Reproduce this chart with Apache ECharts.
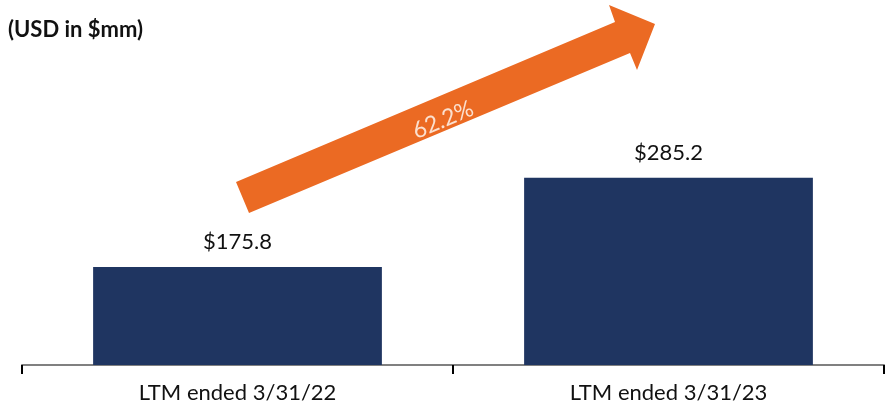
<!DOCTYPE html>
<html>
<head>
<meta charset="utf-8">
<script src="https://cdn.jsdelivr.net/npm/echarts@6/dist/echarts.min.js"></script>
<style>
  html, body { margin: 0; padding: 0; background: #fff; }
  #main { width: 888px; height: 412px; }
</style>
</head>
<body>
<div id="main"></div>
<script>
var categories = ['LTM ended 3/31/22', 'LTM ended 3/31/23'];
var revenue = [175.8, 285.2];
var growthLabel = '62.2%';

var chart = echarts.init(document.getElementById('main'));
chart.setOption({
    animation: false,
    title: {
        text: '(USD in $mm)',
        left: 3,
        top: 14,
        textStyle: {
            fontFamily: 'Lato',
            fontWeight: 'bold',
            fontSize: 22,
            color: '#111'
        }
    },
    grid: {
        left: 22,
        right: 4,
        top: 43,
        bottom: 47
    },
    xAxis: {
        type: 'category',
        data: categories,
        axisLine: { lineStyle: { color: '#808080', width: 2 } },
        axisTick: { show: true, length: 9, lineStyle: { color: '#000', width: 2 } },
        axisLabel: {
            fontFamily: 'Lato',
            fontSize: 22,
            color: '#111',
            margin: 17
        }
    },
    yAxis: {
        type: 'value',
        min: 56,
        max: 450,
        show: false
    },
    series: [
        {
            type: 'bar',
            data: revenue,
            barCategoryGap: '33%',
            itemStyle: { color: '#1F3561' },
            label: {
                show: true,
                position: 'top',
                distance: 14,
                formatter: function (p) { return '$' + p.value.toFixed(1); },
                fontFamily: 'Lato',
                fontSize: 22,
                color: '#111'
            }
        }
    ],
    graphic: [
        {
            type: 'polygon',
            shape: {
                points: [[236, 182], [615, 22], [609, 5], [655, 24], [637, 70], [630, 53], [249, 213]]
            },
            style: { fill: '#EB6A23' }
        },
        {
            type: 'text',
            x: 443,
            y: 120,
            rotation: 22.8 * Math.PI / 180,
            style: {
                text: growthLabel,
                fontFamily: 'Lato',
                fontSize: 23,
                fill: '#FBE0CF',
                align: 'center',
                verticalAlign: 'middle'
            }
        }
    ]
});
</script>
</body>
</html>
